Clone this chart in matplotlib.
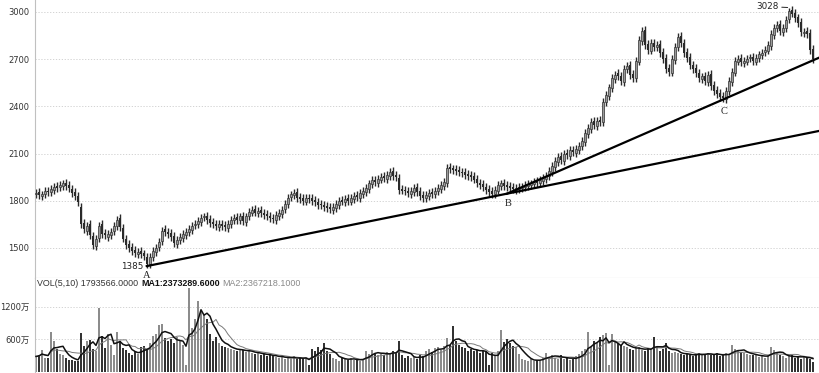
import matplotlib
matplotlib.use('Agg')
import matplotlib.pyplot as plt
import numpy as np
import pandas as pd

# daily candles (price), 10 bars per row
opens = [
    1840, 1855, 1830, 1845, 1865, 1855, 1870, 1895, 1885, 1895,
    1915, 1900, 1875, 1855, 1830, 1760, 1660, 1610, 1650, 1575,
    1515, 1565, 1650, 1595, 1570, 1585, 1605, 1640, 1690, 1625,
    1555, 1525, 1505, 1485, 1460, 1480, 1465, 1445, 1395, 1440,
    1475, 1505, 1545, 1620, 1600, 1595, 1575, 1525, 1550, 1565,
    1585, 1600, 1615, 1645, 1650, 1665, 1695, 1705, 1685, 1665,
    1655, 1635, 1655, 1645, 1625, 1650, 1675, 1695, 1680, 1705,
    1665, 1700, 1725, 1745, 1720, 1740, 1725, 1715, 1705, 1690,
    1680, 1705, 1715, 1745, 1780, 1825, 1835, 1855, 1825, 1815,
    1795, 1820, 1815, 1805, 1795, 1780, 1775, 1765, 1760, 1740,
    1755, 1775, 1805, 1790, 1815, 1795, 1810, 1835, 1820, 1845,
    1855, 1875, 1905, 1935, 1915, 1935, 1955, 1940, 1960, 1990,
    1965, 1945, 1875, 1870, 1865, 1845, 1855, 1885, 1860, 1835,
    1815, 1830, 1855, 1840, 1860, 1875, 1895, 1915, 2015, 2005,
    2000, 1995, 1985, 1980, 1970, 1965, 1955, 1940, 1915, 1905,
    1890, 1875, 1860, 1840, 1865, 1895, 1915, 1900, 1895, 1885,
    1870, 1875, 1880, 1885, 1895, 1900, 1905, 1925, 1910, 1925,
    1940, 1955, 1985, 2015, 2045, 2085, 2055, 2105, 2085, 2120,
    2105, 2125, 2145, 2175, 2225, 2255, 2310, 2275, 2315, 2300,
    2425, 2465, 2515, 2575, 2610, 2595, 2555, 2635, 2665, 2605,
    2580, 2685, 2815, 2885, 2795, 2755, 2805, 2775, 2795, 2745,
    2705, 2645, 2615, 2695, 2775, 2845, 2805, 2745, 2715, 2665,
    2645, 2615, 2575, 2595, 2555, 2605, 2535, 2505, 2485, 2465,
    2445, 2495, 2555, 2615, 2685, 2705, 2675, 2685, 2705, 2715,
    2685, 2705, 2725, 2745, 2755, 2785, 2855, 2895, 2925, 2875,
    2895, 2955, 3010, 2995, 2965, 2935, 2865, 2880, 2865, 2765,
]
closes = [
    1850, 1835, 1840, 1860, 1855, 1875, 1890, 1880, 1900, 1910,
    1895, 1880, 1850, 1830, 1790, 1650, 1620, 1640, 1580, 1520,
    1560, 1640, 1590, 1580, 1590, 1600, 1640, 1680, 1630, 1560,
    1520, 1500, 1480, 1470, 1475, 1460, 1450, 1400, 1440, 1480,
    1500, 1540, 1610, 1600, 1590, 1570, 1530, 1550, 1570, 1590,
    1600, 1620, 1640, 1650, 1670, 1690, 1700, 1680, 1660, 1650,
    1640, 1650, 1640, 1630, 1650, 1680, 1690, 1680, 1700, 1670,
    1700, 1730, 1740, 1725, 1735, 1720, 1710, 1700, 1690, 1685,
    1710, 1720, 1740, 1780, 1820, 1840, 1850, 1820, 1810, 1800,
    1815, 1810, 1800, 1790, 1775, 1770, 1760, 1755, 1745, 1760,
    1780, 1800, 1795, 1810, 1800, 1815, 1830, 1825, 1850, 1860,
    1880, 1910, 1930, 1920, 1940, 1950, 1945, 1965, 1985, 1960,
    1950, 1870, 1865, 1860, 1850, 1860, 1880, 1855, 1830, 1820,
    1835, 1850, 1845, 1865, 1880, 1900, 1920, 2010, 2000, 1995,
    1990, 1980, 1975, 1965, 1960, 1950, 1935, 1910, 1900, 1885,
    1870, 1855, 1845, 1870, 1900, 1910, 1895, 1890, 1880, 1875,
    1880, 1885, 1890, 1900, 1905, 1910, 1920, 1915, 1930, 1945,
    1960, 1990, 2020, 2050, 2080, 2060, 2100, 2090, 2120, 2110,
    2130, 2150, 2180, 2230, 2260, 2300, 2280, 2310, 2300, 2430,
    2470, 2520, 2580, 2600, 2590, 2560, 2640, 2655, 2600, 2580,
    2690, 2820, 2880, 2790, 2760, 2800, 2780, 2790, 2740, 2700,
    2640, 2620, 2700, 2780, 2840, 2800, 2740, 2710, 2660, 2640,
    2610, 2580, 2590, 2560, 2600, 2530, 2500, 2480, 2460, 2450,
    2500, 2560, 2620, 2690, 2700, 2680, 2690, 2700, 2710, 2690,
    2710, 2730, 2740, 2760, 2790, 2860, 2900, 2920, 2880, 2900,
    2950, 3003, 2990, 2960, 2930, 2870, 2870, 2860, 2760, 2700,
]
# volume in 万 (10k shares)
volumes = [
    280, 300, 390, 260, 250, 730, 560, 420, 330, 300,
    260, 220, 210, 190, 200, 710, 470, 560, 590, 420,
    380, 1180, 650, 430, 700, 500, 300, 730, 560, 430,
    400, 350, 300, 380, 320, 450, 480, 420, 520, 650,
    700, 860, 880, 620, 560, 600, 520, 640, 560, 500,
    130, 1550, 800, 980, 1300, 1100, 1050, 980, 700, 560,
    640, 520, 480, 450, 430, 420, 400, 380, 420, 390,
    360, 380, 340, 330, 350, 300, 320, 290, 310, 280,
    270, 250, 290, 240, 260, 230, 280, 240, 250, 230,
    260, 130, 420, 380, 450, 400, 520, 380, 330, 260,
    240, 200, 260, 230, 210, 250, 220, 210, 200, 230,
    380, 320, 400, 350, 300, 330, 310, 360, 340, 380,
    340, 560, 300, 260, 290, 250, 270, 230, 300, 280,
    380, 420, 360, 440, 460, 400, 470, 620, 500, 840,
    560, 500, 450, 430, 380, 420, 380, 400, 350, 380,
    360, 120, 340, 300, 380, 770, 540, 600, 520, 480,
    460, 330, 240, 210, 200, 230, 190, 220, 210, 260,
    350, 270, 300, 260, 240, 300, 230, 250, 220, 240,
    280, 320, 380, 420, 730, 450, 560, 520, 640, 680,
    720, 130, 700, 550, 520, 500, 480, 460, 420, 400,
    430, 460, 400, 380, 430, 390, 640, 460, 380, 420,
    520, 380, 350, 360, 340, 320, 300, 330, 310, 290,
    320, 350, 300, 330, 340, 310, 300, 350, 280, 300,
    340, 310, 490, 420, 380, 360, 350, 330, 300, 310,
    300, 270, 290, 260, 310, 450, 390, 350, 300, 280,
    250, 280, 310, 260, 270, 240, 290, 250, 236, 179,
]

# labelled turning points A, B, C (bar index, price)
anchor_names = ['A', 'B', 'C']
anchor_idx = [37, 157, 228]
anchor_price = [1385, 1845, 2435]
peak_idx = 251
peak_price = 3028

price_ticks = [1500, 1800, 2100, 2400, 2700, 3000]
vol_ticks = [600, 1200]
vol_tick_labels = ['600万', '1200万']
vol_header = ['VOL(5,10) 1793566.0000', 'MA1:2373289.6000', 'MA2:2367218.1000']


def main(OUTPUT_IMG):
    plt.rcParams['font.family'] = ['DejaVu Sans', 'Noto Sans CJK SC']

    o = np.array(opens, dtype=float)
    c = np.array(closes, dtype=float)
    v = np.array(volumes, dtype=float)
    n = len(c)
    x = np.arange(n)
    up = c >= o
    wick = 25  # wick length beyond the body, in price points

    W, H = 820, 373
    f = plt.figure(figsize=(W / 100, H / 100), dpi=100)
    ax = f.add_axes([35 / W, 95 / H, 785 / W, 278 / H])
    axv = f.add_axes([35 / W, 1 / H, 785 / W, 94 / H])

    xlim = (-1 / 3, 784 / 3)

    # ---- price panel
    lo = np.minimum(o, c)
    hi = np.maximum(o, c)
    ax.vlines(x, lo - wick, hi + wick, color='#2a2a2a', lw=1.0, zorder=2)
    body = np.maximum(hi - lo, 6)
    ax.bar(x[~up], body[~up], bottom=lo[~up], width=0.72,
           color='#2a2a2a', lw=0, zorder=3)
    ax.bar(x[up], body[up], bottom=lo[up], width=0.72,
           facecolor='#9a9a9a', edgecolor='#333333', lw=0.5, zorder=3)

    # trend lines A->B and B->C, extended to the right edge
    xa, xb, xc = anchor_idx
    pa, pb, pc = anchor_price
    s1 = (pb - pa) / (xb - xa)
    s2 = (pc - pb) / (xc - xb)
    ax.plot([xa, xlim[1]], [pa, pa + s1 * (xlim[1] - xa)], color='black', lw=1.6, zorder=4)
    ax.plot([xb, xlim[1]], [pb, pb + s2 * (xlim[1] - xb)], color='black', lw=1.6, zorder=4)

    # point labels
    offs = [(0, -9), (1, -10), (4, -11)]
    for name, xi, pi, off in zip(anchor_names, anchor_idx, anchor_price, offs):
        ax.annotate(name, xy=(xi, pi), xytext=off, textcoords='offset pixels',
                    ha='center', va='center', fontsize=7.5,
                    family='Liberation Serif', color='#222222',
                    annotation_clip=False, zorder=5)
    ax.annotate(str(anchor_price[0]), xy=(xa, pa), xytext=(-4, 0),
                textcoords='offset pixels', ha='right', va='center',
                fontsize=6.3, color='#222222',
                arrowprops=dict(arrowstyle='-', lw=0.7, color='#222222',
                                shrinkA=0, shrinkB=0))
    ax.annotate(str(peak_price), xy=(peak_idx, peak_price), xytext=(-10, 1),
                textcoords='offset pixels', ha='right', va='center',
                fontsize=6.3, color='#222222',
                arrowprops=dict(arrowstyle='-', lw=0.7, color='#222222',
                                shrinkA=0, shrinkB=1))

    ax.set_xlim(*xlim)
    ax.set_ylim(1309, 3076)
    ax.set_yticks(price_ticks)
    ax.set_yticklabels([str(t) for t in price_ticks])
    ax.set_xticks([])
    ax.tick_params(axis='y', length=0, pad=4, labelsize=6, labelcolor='#333333')
    ax.grid(axis='y', color='#cccccc', ls=(0, (1.5, 2)), lw=0.6)
    for s in ['top', 'right']:
        ax.spines[s].set_visible(False)
    ax.spines['left'].set_color('#c0c0c0')
    ax.spines['bottom'].set_color('#c0c0c0')

    # ---- volume panel
    vcol = np.where(up, '#8c8c8c', '#333333')
    axv.bar(x, v, width=0.7, color=vcol, lw=0, zorder=2)
    ma5 = pd.Series(v).rolling(5, min_periods=1).mean()
    ma10 = pd.Series(v).rolling(10, min_periods=1).mean()
    axv.plot(x, ma10, color='#7a7a7a', lw=0.7, zorder=3)
    axv.plot(x, ma5, color='#111111', lw=1.1, zorder=4)

    axv.set_xlim(*xlim)
    axv.set_ylim(-9, 1735)
    axv.set_yticks(vol_ticks)
    axv.set_yticklabels(vol_tick_labels)
    axv.set_xticks([])
    axv.tick_params(axis='y', length=0, pad=4, labelsize=6, labelcolor='#333333')
    axv.grid(axis='y', color='#cccccc', ls=(0, (1.5, 2)), lw=0.6)
    for s in ['top', 'right', 'bottom']:
        axv.spines[s].set_visible(False)
    axv.spines['left'].set_color('#c0c0c0')

    # header line of the volume panel, pieces placed one after the other
    styles = [dict(color='#333333'), dict(color='#111111', weight='bold'),
              dict(color='#888888')]
    r = f.canvas.get_renderer()
    xpos = 37
    for txt, st in zip(vol_header, styles):
        t = f.text(xpos / W, 1 - 284 / H, txt, fontsize=6.4,
                   family='Liberation Sans', va='center', **st)
        xpos = t.get_window_extent(r).x1 + 3

    plt.savefig(OUTPUT_IMG, dpi=100)


if __name__ == "__main__":
    main('out.png')
